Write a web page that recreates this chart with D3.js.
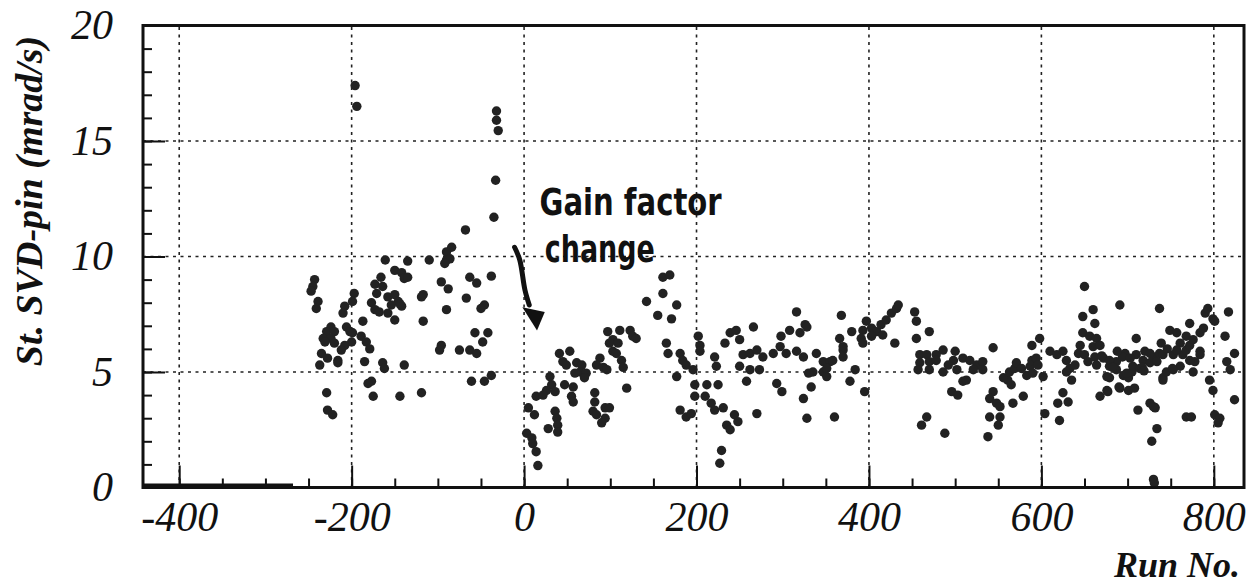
<!DOCTYPE html>
<html><head><meta charset="utf-8">
<script src="https://cdn.jsdelivr.net/npm/d3@7"></script>
<style>body{margin:0;background:#fff}svg{display:block}</style>
</head><body><svg id="c" width="1255" height="588"></svg>
<script>
// ---------- data ----------
const xMajorTicks = [-400, -200, 0, 200, 400, 600, 800];
const yMajorTicks = [0, 5, 10, 15, 20];
const xMinorTicks = d3.range(-400, 801, 50);
const yMinorTicks = d3.range(0, 21, 1);
const xTitle = "Run No.";
const yTitle = "St. SVD-pin (mrad/s)";
const noteLine1 = "Gain factor";
const noteLine2 = "change";
const zeroSpan = [-442, -268];          // runs shown at 0 (no data)
const arrowShaft = [[-11,10.4],[-5,9.85],[1,8.55],[6,7.9]];
const arrowHead = [[-2,7.8],[24,7.6],[15,6.8]];

const ptsPre = [[-196,17.4],[-194,16.5],[-32,16.3],[-32,15.9],[-30,15.45],[-33,13.3],[-35,11.7],[-68,11.15],
[-84,10.4],[-90,10.2],[-90,9.85],[-86,9.9],[-92,9.7],[-110,9.85],[-135,9.8],[-161,9.85],
[-150,9.4],[-142,9.3],[-139,9.05],[-135,9.1],[-166,9.1],[-173,8.8],[-164,8.7],[-171,8.4],[-158,8.25],[-150,8.35],[-146,8.05],[-154,7.9],[-142,7.85],[-177,8.0],[-173,7.7],[-168,7.6],[-158,7.55],[-150,7.25],
[-117,8.35],[-119,8.25],[-96,8.9],[-88,8.6],[-90,7.7],[-117,7.2],[-187,7.2],[-197,8.4],[-199,8.05],[-208,7.85],[-210,7.55],
[-243,9.0],[-245,8.7],[-247,8.5],[-239,8.05],[-241,7.75],
[-224,6.95],[-229,6.75],[-220,6.75],[-233,6.45],[-224,6.45],[-231,6.3],[-220,6.25],[-206,6.95],[-202,6.75],[-199,6.7],[-200,6.3],[-208,6.15],[-212,5.95],[-189,6.55],[-183,6.3],[-179,6.0],
[-235,5.8],[-228,5.6],[-216,5.5],[-216,5.4],[-237,5.3],[-185,5.45],[-164,5.4],[-162,5.15],[-139,5.3],[-177,4.6],[-181,4.5],[-229,4.1],[-175,3.95],[-144,3.95],[-119,4.1],[-228,3.35],[-222,3.15],
[-63,9.1],[-55,8.85],[-38,9.15],[-144,7.95],[-67,8.2],[-46,7.9],[-50,7.75],[-57,6.7],[-42,6.7],[-48,6.3],[-96,6.15],[-98,5.95],[-75,5.95],[-63,5.95],[-55,5.8],[-61,4.6],[-46,4.6],[-38,4.85]];

const ptsA = [[41,5.8],[53,5.9],[45,5.45],[49,5.3],[61,5.4],[67,5.3],[65,5.0],[72,4.95],[70,4.75],[59,4.95],
[88,5.6],[84,5.3],[92,5.2],[96,5.1],
[103,6.4],[97,6.75],[111,6.8],[123,6.8],[126,6.55],[130,6.45],[99,6.25],[109,6.25],[103,5.9],[113,5.5],[115,5.2],[119,4.3],[107,5.8],
[30,4.8],[32,4.45],[26,4.2],[14,3.95],[22,4.0],[36,4.15],[47,4.45],[57,4.35],
[5,3.45],[12,3.15],[55,3.95],[57,3.7],[36,3.3],[38,3.0],[39,2.7],[28,2.55],[39,2.4],
[82,4.1],[82,3.7],[80,3.3],[84,3.15],[94,3.45],[99,3.45],[94,3.0],[90,2.8],
[3,2.35],[9,2.15],[10,1.9],[14,1.55],[16,0.95],
[161,9.1],[169,9.2],[161,8.4],[142,8.05],[177,7.9],[155,7.45],[171,7.3],
[165,6.25],[167,5.8],[181,5.8],[184,5.5],[188,5.3],[196,5.1],[177,4.8],
[198,4.45],[198,3.95],[181,3.35],[188,3.05],[194,3.2]];

const ptsB = [[202,6.55],[204,6.15],[204,5.9],[212,4.45],[225,4.45],[210,3.95],[217,3.65],[221,3.35],[231,3.45],
[244,3.15],[248,2.85],[235,2.7],[239,2.5],[270,3.2],[229,1.6],[227,1.05],
[221,5.65],[223,5.25],[239,6.7],[246,6.8],[250,6.4],[233,6.25],[266,6.95],[254,5.75],[262,5.8],[270,5.95],[277,5.65],[250,5.25],[262,5.1],[273,5.1],[258,4.6],
[293,4.5],[299,4.15],[324,3.85],[328,3.0],[360,3.05],
[289,5.8],[297,6.1],[304,5.8],[316,5.9],[324,5.65],[316,7.6],[326,7.05],[320,6.7],[308,6.8],[298,6.55],[328,6.95],
[339,5.8],[347,5.45],[355,5.45],[335,5.0],[347,5.0],[351,4.8],[333,4.35],[330,4.95],[351,5.15],
[368,7.45],[366,6.45],[370,5.95],[380,6.75],[370,6.1],[370,5.65],[384,5.1],[378,4.6],[358,5.5],[393,6.8],[397,7.2],[391,6.45],[393,6.25],[395,4.15]];

const ptsC = [[403,6.9],[409,6.75],[414,7.05],[420,7.25],[426,7.55],[432,7.75],[434,7.9],[416,6.6],[403,6.55],[430,6.25],
[453,7.6],[455,7.2],[470,6.75],[455,6.45],
[459,5.75],[467,5.75],[478,5.75],[486,5.95],[459,5.4],[470,5.45],[478,5.5],[457,5.1],[470,5.1],[486,5.0],
[500,5.9],[498,5.5],[492,5.3],[509,5.6],[517,5.5],[525,5.3],[532,5.45],[502,5.1],[521,5.1],[532,5.1],[509,4.6],[513,4.65],[544,6.05],[496,4.15],[503,4.0],[461,2.7],[467,3.05],[488,2.35],
[544,4.15],[540,3.85],[548,3.65],[552,3.5],[540,3.05],[552,3.05],[550,2.7],[538,2.2],[567,3.65],[579,3.95],
[561,4.65],[565,4.45],[556,4.75],[563,5.0],[569,5.15],[571,5.4],[577,5.15],[583,4.85],[587,5.25],[590,4.95],[589,6.15],[589,5.5],[594,5.6],[596,5.3],[598,6.45]];

const ptsD = [[602,4.8],[610,5.9],[604,3.2],[621,2.9],[618,5.75],[625,5.9],[629,5.5],[633,5.15],[629,5.0],[635,4.65],[639,5.3],[625,4.1],[619,3.65],[631,3.7],
[648,7.4],[660,7.7],[662,7.1],[648,6.7],[656,6.55],[664,6.45],[660,6.1],[668,6.15],[645,6.15],[643,5.8],[650,5.75],[654,5.45],[662,5.65],[672,5.6],[664,5.3],[679,5.25],[687,5.45],[676,4.8],[687,5.1],[691,7.9],[697,5.8],[695,4.85],[701,4.75],[650,8.7],
[668,3.95],[677,4.15],[691,4.3],[701,4.2],[708,4.3],[710,6.45],[720,5.9],[718,5.5],[705,5.0],[712,3.35],[726,3.65],[732,3.45],[734,2.55],[728,2.0],[730,0.35],[731,0.2],
[706,5.25],[714,5.15],[726,5.4],[730,5.65],[737,5.8],[739,6.25],[741,4.75],[745,5.0],[753,5.1],[761,5.25],[753,5.75],[764,5.75],[768,5.95],[772,6.15],[761,6.25],[749,6.8],[757,6.7],[768,6.55],[776,6.4],[784,6.7],[788,6.9],[772,7.1],[778,5.45],[784,5.9],[790,7.55],[793,7.75],[799,7.3],[801,7.2],[737,7.75],
[679,5.5],[694,5.65],[710,5.75],[726,5.8],[741,5.75],[757,5.95],[679,4.75],[683,5.2],[699,4.95],[717,5.2],[741,4.65],[752,5.15],[772,5.5],[784,5.75],[776,5.0],[690,4.35],[676,4.2],[730,3.5],[670,5.7],[688,5.9],[703,5.6],[746,6.0],[734,5.45],[719,5.05],
[768,3.05],[774,3.05],[795,4.65],[799,4.2],[801,3.15],[807,3.0],[805,2.8],[813,6.55],[817,7.6],[824,5.8],[815,5.45],[819,5.1],[824,3.8]];

// ---------- chart ----------
const svg = d3.select("#c");
const x = d3.scaleLinear().domain([-442, 835]).range([143, 1244]);
const y = d3.scaleLinear().domain([0, 20]).range([487.5, 25.5]);
const serif = "'Liberation Serif','DejaVu Serif',serif";
const ink = "#111";
const fmt = d => String(d);   // plain hyphen-minus as in the original

// grid
const grid = svg.append("g").attr("stroke", "#222").attr("stroke-width", 1.6).attr("stroke-dasharray", "3,4.5");
grid.selectAll("line.v").data(xMajorTicks).join("line")
  .attr("x1", d => x(d)).attr("x2", d => x(d)).attr("y1", y(0)).attr("y2", y(20));
grid.selectAll("line.h").data(yMajorTicks.filter(d => d > 0 && d < 20)).join("line")
  .attr("x1", x.range()[0]).attr("x2", x.range()[1]).attr("y1", d => y(d)).attr("y2", d => y(d));

// minor/major ticks
function styleTicks(g){ g.select(".domain").remove(); g.selectAll("line").attr("stroke", ink).attr("stroke-width", 2); g.selectAll("text").remove(); }
svg.append("g").attr("transform", `translate(0,${y(0)})`).call(d3.axisBottom(x).tickValues(xMinorTicks).tickSize(-9)).call(styleTicks);
svg.append("g").attr("transform", `translate(0,${y(0)})`).call(d3.axisBottom(x).tickValues(xMajorTicks).tickSize(-22)).call(styleTicks);
svg.append("g").attr("transform", `translate(${x.range()[0]},0)`).call(d3.axisLeft(y).tickValues(yMinorTicks).tickSize(-9)).call(styleTicks);
svg.append("g").attr("transform", `translate(${x.range()[0]},0)`).call(d3.axisLeft(y).tickValues(yMajorTicks).tickSize(-22)).call(styleTicks);

// tick labels
const xl = svg.append("g").attr("transform", `translate(0,${y(0)})`)
  .call(d3.axisBottom(x).tickValues(xMajorTicks).tickSize(0).tickPadding(14).tickFormat(fmt));
xl.select(".domain").remove();
xl.selectAll("text").attr("font-family", serif).attr("font-style", "italic").attr("font-size", 42).attr("fill", ink);
const yl = svg.append("g").attr("transform", `translate(${x.range()[0]},0)`)
  .call(d3.axisLeft(y).tickValues(yMajorTicks).tickSize(0).tickPadding(30).tickFormat(fmt));
yl.select(".domain").remove();
yl.selectAll("text").attr("font-family", serif).attr("font-style", "italic").attr("font-size", 42).attr("fill", ink);

// zero-valued runs
svg.append("rect").attr("x", x(zeroSpan[0])).attr("width", x(zeroSpan[1]) - x(zeroSpan[0]))
  .attr("y", y(0) - 4).attr("height", 4).attr("fill", ink);

// points
const allPts = [].concat(ptsPre, ptsA, ptsB, ptsC, ptsD);
svg.append("g").selectAll("circle").data(allPts).join("circle")
  .attr("cx", d => x(d[0])).attr("cy", d => y(d[1])).attr("r", 4.7).attr("fill", "#222");

// frame
svg.append("rect").attr("x", x.range()[0]).attr("y", y(20)).attr("width", x.range()[1] - x.range()[0])
  .attr("height", y(0) - y(20)).attr("fill", "none").attr("stroke", ink).attr("stroke-width", 3);

// annotation
const hand = "'DejaVu Sans','Noto Sans',sans-serif";
svg.append("text").attr("x", x(18)).attr("y", y(11.8)).attr("font-family", hand).attr("font-weight", 700)
  .attr("font-size", 38).attr("textLength", 182).attr("lengthAdjust", "spacingAndGlyphs").attr("fill", ink).text(noteLine1);
svg.append("text").attr("x", x(24)).attr("y", y(9.76)).attr("font-family", hand).attr("font-weight", 700)
  .attr("font-size", 38).attr("textLength", 110).attr("lengthAdjust", "spacingAndGlyphs").attr("fill", ink).text(noteLine2);
svg.append("path").attr("d", d3.line().x(d => x(d[0])).y(d => y(d[1])).curve(d3.curveCatmullRom)(arrowShaft))
  .attr("fill", "none").attr("stroke", ink).attr("stroke-width", 5).attr("stroke-linecap", "round");
svg.append("path").attr("d", d3.line().x(d => x(d[0])).y(d => y(d[1]))(arrowHead) + "Z").attr("fill", ink);

// axis titles
svg.append("text").attr("x", 1240).attr("y", 577).attr("text-anchor", "end").attr("font-family", serif)
  .attr("font-style", "italic").attr("font-weight", 700).attr("font-size", 36).attr("fill", ink).text(xTitle);
svg.append("text").attr("transform", "translate(42,201) rotate(-90)").attr("text-anchor", "middle").attr("font-family", serif)
  .attr("font-style", "italic").attr("font-weight", 700).attr("font-size", 38).attr("fill", ink).text(yTitle);
</script></body></html>
